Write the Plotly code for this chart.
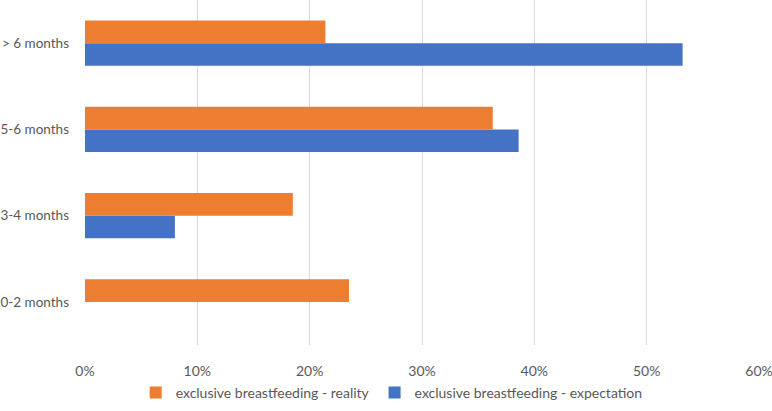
import plotly.graph_objects as go

categories = ["0-2 months", "3-4 months", "5-6 months", "> 6 months"]
reality = [0.235, 0.185, 0.363, 0.214]
expectation = [0.0, 0.080, 0.386, 0.532]
x_ticks = [0, 0.1, 0.2, 0.3, 0.4, 0.5, 0.6]
x_tick_labels = ["0%", "10%", "20%", "30%", "40%", "50%", "60%"]

fig = go.Figure()
fig.add_trace(go.Bar(y=categories, x=expectation, orientation="h",
                     name="exclusive breastfeeding - expectation",
                     marker=dict(color="#4472C4", line=dict(width=0))))
fig.add_trace(go.Bar(y=categories, x=reality, orientation="h",
                     name="exclusive breastfeeding - reality",
                     marker=dict(color="#ED7D31", line=dict(width=0))))

fig.update_layout(
    width=772, height=411,
    margin=dict(l=85, r=13, t=0, b=66, autoexpand=False),
    barmode="group", bargap=0.477, bargroupgap=0,
    plot_bgcolor="white", paper_bgcolor="white",
    font=dict(family="Lato, Open Sans, sans-serif", size=14, color="#595959"),
    showlegend=True,
    legend=dict(orientation="h", traceorder="reversed", x=0.455, xanchor="center",
                y=-0.139, yanchor="middle", font=dict(size=14, color="#595959"),
                itemwidth=30),
    xaxis=dict(range=[0, 0.6], tickvals=x_ticks, ticktext=x_tick_labels,
               showgrid=True, gridcolor="#d9d9d9", gridwidth=1, zeroline=False,
               showline=False, ticks="", ticklabelstandoff=16, fixedrange=True,
               ticklabeloverflow="allow", automargin=False,
               tickfont=dict(size=14)),
    yaxis=dict(showgrid=False, zeroline=False, showline=False, ticks="",
               ticklabelstandoff=15, fixedrange=True, automargin=False,
               ticklabeloverflow="allow", tickfont=dict(size=13.5)),
)
fig.write_html("out.html", config={"displayModeBar": False},
               post_script="document.body.style.margin='0';")
